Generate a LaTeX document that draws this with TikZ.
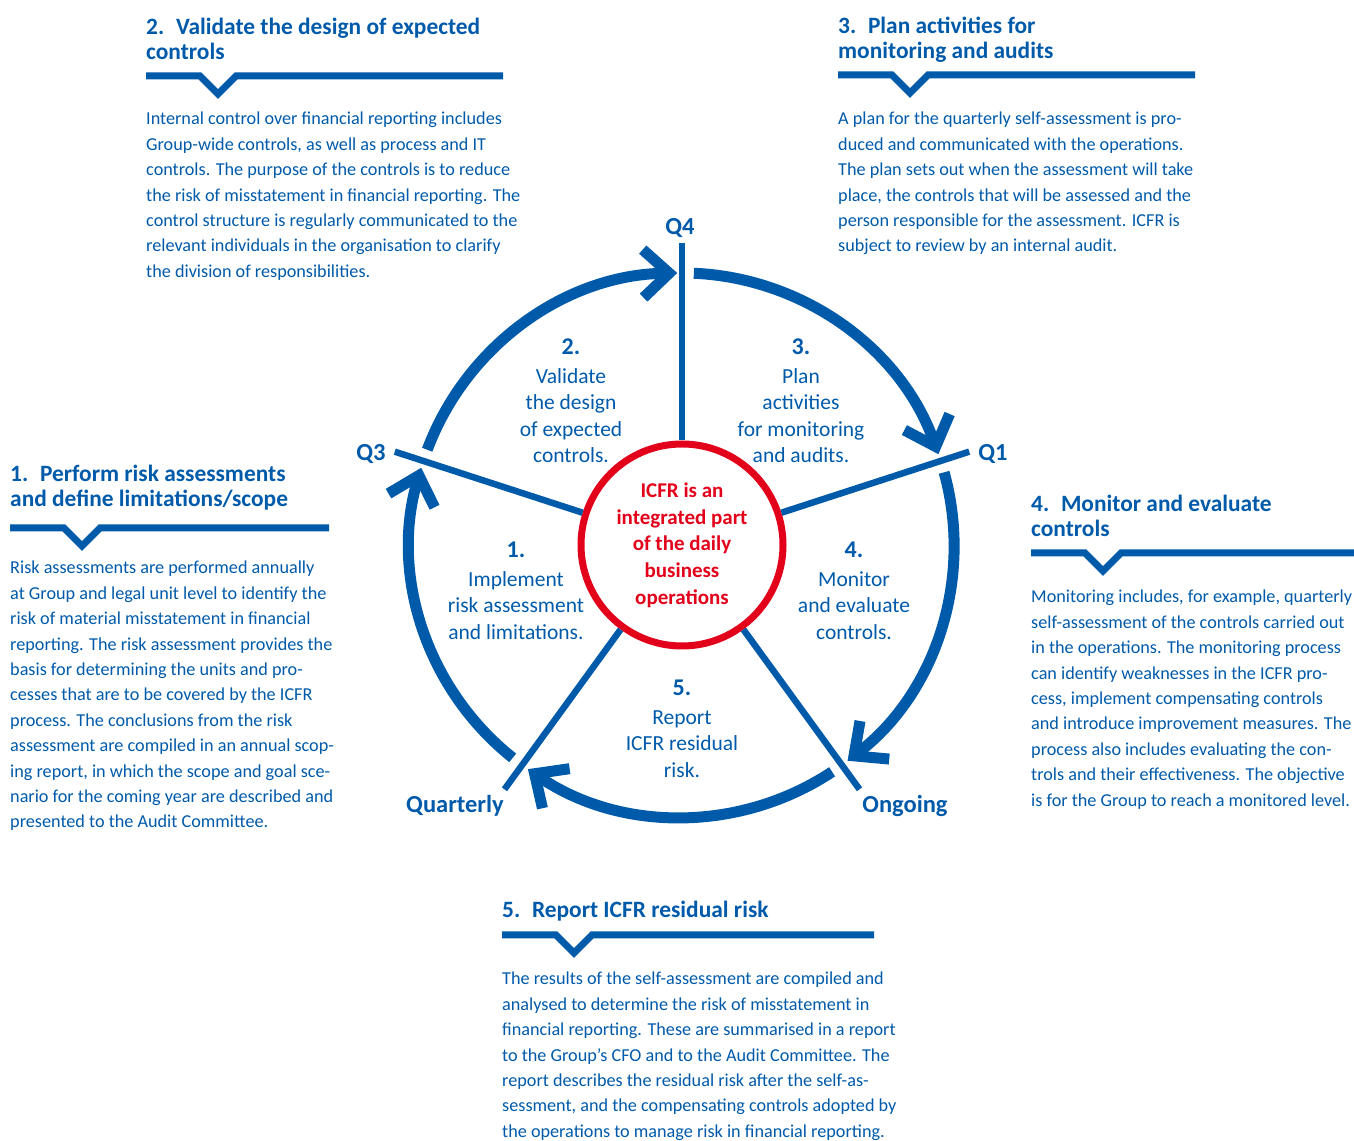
\documentclass[tikz,border=0pt]{standalone}
\usepackage{fontspec}
\setmainfont{Carlito}
\usetikzlibrary{arrows.meta}
\definecolor{icfrblue}{HTML}{005AAA}
\definecolor{icfrred}{HTML}{E2001A}
\newcommand{\stepno}[1]{{\fontsize{24}{26.5}\selectfont\bfseries #1}}

\begin{document}
\begin{tikzpicture}[x=1pt, y=1pt,
    head/.style={anchor=north west, inner sep=0pt, align=left, text=icfrblue,
      font=\fontsize{23.4}{24.5}\selectfont\bfseries},
    body/.style={anchor=north west, inner sep=0pt, align=left, text=icfrblue,
      font=\fontsize{18.2}{25.4}\selectfont},
    rule/.style={icfrblue, line width=7pt, line join=miter},
    steptext/.style={inner sep=0pt, align=center, text=icfrblue,
      font=\fontsize{21.5}{26.5}\selectfont},
    quarter/.style={anchor=base, inner sep=0pt, text=icfrblue,
      font=\fontsize{24.5}{25}\selectfont\bfseries},
    hub/.style={circle, draw=icfrred, line width=7pt, minimum size=202pt, inner sep=0pt,
      align=center, text=icfrred, font=\fontsize{21}{26.7}\selectfont\bfseries},
    spoke/.style={icfrblue, line width=6.5pt},
    ring/.style={icfrblue, line width=11pt, -{Straight Barb[sharp, length=26pt, width=48pt]}}]
  \useasboundingbox (0,0) rectangle (1354,1140);

  % wheel
  \coordinate (C) at (682,595);
  \node[hub] (hub) at (C) {ICFR is an\\integrated part\\of the daily\\business\\operations};

  \path (C) ++(90:302) coordinate (sQ4);
  \path (C) ++(18:302) coordinate (sQ1);
  \path (C) ++(-54:302) coordinate (sOn);
  \path (C) ++(-126:302) coordinate (sQu);
  \path (C) ++(162:302) coordinate (sQ3);
  \draw[spoke] (hub.90) -- (sQ4);
  \draw[spoke] (hub.18) -- (sQ1);
  \draw[spoke] (hub.-54) -- (sOn);
  \draw[spoke] (hub.-126) -- (sQu);
  \draw[spoke] (hub.162) -- (sQ3);

  \draw[ring] (C) ++(159.5:272) arc[start angle=159.5, end angle=91, radius=272];
  \draw[ring] (C) ++(87.5:272) arc[start angle=87.5, end angle=19.5, radius=272];
  \draw[ring] (C) ++(15.5:272) arc[start angle=15.5, end angle=-52.5, radius=272];
  \draw[ring] (C) ++(-56.5:272) arc[start angle=-56.5, end angle=-124.5, radius=272];
  \draw[ring] (C) ++(231.5:272) arc[start angle=231.5, end angle=163.5, radius=272];

  \node[quarter] (lQ4) at (680,905) {Q4};
  \node[quarter] (lQ1) at (993,679) {Q1};
  \node[quarter] (lOn) at (905,327) {Ongoing};
  \node[quarter] (lQu) at (455,327) {Quarterly};
  \node[quarter] (lQ3) at (371,679) {Q3};

  \node[steptext] (s1) at (516,549) {\stepno{1.}\\[2pt]Implement\\risk assessment\\and limitations.};
  \node[steptext] (s2) at (571,739) {\stepno{2.}\\[2pt]Validate\\the design\\of expected\\controls.};
  \node[steptext] (s3) at (801,739) {\stepno{3.}\\[2pt]Plan\\activities\\for monitoring\\and audits.};
  \node[steptext] (s4) at (854,549) {\stepno{4.}\\[2pt]Monitor\\and evaluate\\controls.};
  \node[steptext] (s5) at (682,411) {\stepno{5.}\\[2pt]Report\\ICFR residual\\risk.};

  % headings with notched rules
  \foreach \x/\y/\e in {146/1064/503, 838/1065/1195, 10/612/329, 1031/587/1354, 502/205/874}
    \draw[rule] (\x,\y) -- ++(54,0) -- ++(18,-18) -- ++(18,18) -- (\e,\y);

  \node[head] (h1) at (10,675) {1.\hspace{0.5em}Perform risk assessments\\and define limitations/scope};
  \node[head] (h2) at (146,1122) {2.\hspace{0.5em}Validate the design of expected\\controls};
  \node[head] (h3) at (838,1123) {3.\hspace{0.5em}Plan activities for\\monitoring and audits};
  \node[head] (h4) at (1031,645) {4.\hspace{0.5em}Monitor and evaluate\\controls};
  \node[head] (h5) at (502,239) {5.\hspace{0.5em}Report ICFR residual risk};

  \node[body] (t1) at (10,579) {Risk assessments are performed annually\\
    at Group and legal unit level to identify the\\
    risk of material misstatement in financial\\
    reporting. The risk assessment provides the\\
    basis for determining the units and pro-\\
    cesses that are to be covered by the ICFR\\
    process. The conclusions from the risk\\
    assessment are compiled in an annual scop-\\
    ing report, in which the scope and goal sce-\\
    nario for the coming year are described and\\
    presented to the Audit Committee.};
  \node[body] (t2) at (146,1028) {Internal control over financial reporting includes\\
    Group-wide controls, as well as process and IT\\
    controls. The purpose of the controls is to reduce\\
    the risk of misstatement in financial reporting. The\\
    control structure is regularly communicated to the\\
    relevant individuals in the organisation to clarify\\
    the division of responsibilities.};
  \node[body] (t3) at (838,1028) {A plan for the quarterly self-assessment is pro-\\
    duced and communicated with the operations.\\
    The plan sets out when the assessment will take\\
    place, the controls that will be assessed and the\\
    person responsible for the assessment. ICFR is\\
    subject to review by an internal audit.};
  \node[body] (t4) at (1031,550) {Monitoring includes, for example, quarterly\\
    self-assessment of the controls carried out\\
    in the operations. The monitoring process\\
    can identify weaknesses in the ICFR pro-\\
    cess, implement compensating controls\\
    and introduce improvement measures. The\\
    process also includes evaluating the con-\\
    trols and their effectiveness. The objective\\
    is for the Group to reach a monitored level.};
  \node[body] (t5) at (502,168) {The results of the self-assessment are compiled and\\
    analysed to determine the risk of misstatement in\\
    financial reporting. These are summarised in a report\\
    to the Group’s CFO and to the Audit Committee. The\\
    report describes the residual risk after the self-as-\\
    sessment, and the compensating controls adopted by\\
    the operations to manage risk in financial reporting.};
\end{tikzpicture}
\end{document}
